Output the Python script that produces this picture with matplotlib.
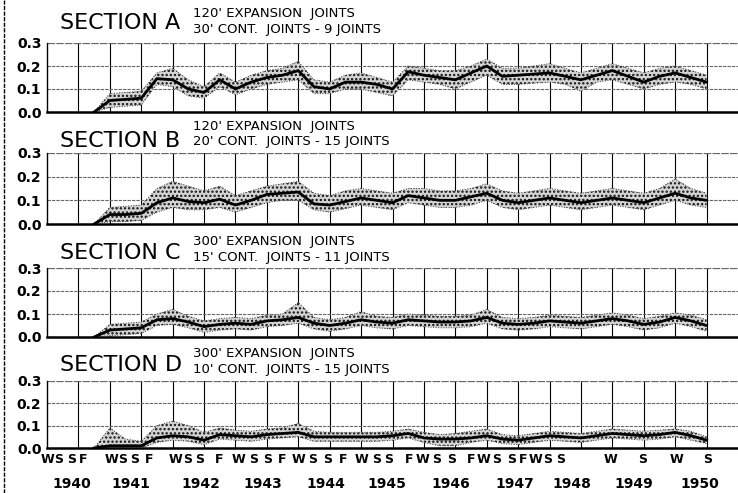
import numpy as np
import matplotlib
matplotlib.use("Agg")
import matplotlib.pyplot as plt
from matplotlib.lines import Line2D

plt.rcParams.update({
    'font.family': 'DejaVu Sans',
    'hatch.linewidth': 1.1,
    'hatch.color': '#111111',
})

# time of each reading (years, one per season)
t = np.arange(1940.75, 1950.51, 0.25)

a_mid = [0.0, 0.05, 0.055, 0.06, 0.145, 0.14, 0.10, 0.085, 0.14, 0.10,
         0.13, 0.15, 0.16, 0.18, 0.11, 0.10, 0.13, 0.13, 0.12, 0.10,
         0.175, 0.16, 0.15, 0.14, 0.17, 0.20, 0.155, 0.16, 0.165, 0.17,
         0.155, 0.14, 0.16, 0.18, 0.155, 0.13, 0.155, 0.17, 0.15, 0.13]
a_hi = [0.0, 0.08, 0.085, 0.09, 0.17, 0.19, 0.14, 0.11, 0.17, 0.13,
        0.16, 0.18, 0.19, 0.22, 0.14, 0.13, 0.16, 0.17, 0.15, 0.13,
        0.20, 0.19, 0.18, 0.18, 0.20, 0.23, 0.19, 0.19, 0.20, 0.21,
        0.19, 0.17, 0.19, 0.21, 0.19, 0.17, 0.19, 0.20, 0.18, 0.16]
a_lo = [0.0, 0.02, 0.025, 0.03, 0.12, 0.11, 0.07, 0.06, 0.11, 0.075,
        0.10, 0.12, 0.13, 0.14, 0.08, 0.08, 0.10, 0.10, 0.085, 0.07,
        0.14, 0.13, 0.12, 0.10, 0.13, 0.16, 0.12, 0.12, 0.125, 0.13,
        0.12, 0.09, 0.13, 0.14, 0.12, 0.10, 0.12, 0.13, 0.12, 0.10]

b_mid = [0.0, 0.04, 0.04, 0.045, 0.09, 0.11, 0.095, 0.09, 0.105, 0.08,
         0.10, 0.125, 0.13, 0.135, 0.085, 0.08, 0.095, 0.11, 0.10, 0.09,
         0.12, 0.11, 0.10, 0.10, 0.115, 0.13, 0.10, 0.09, 0.10, 0.11,
         0.10, 0.09, 0.10, 0.11, 0.10, 0.09, 0.11, 0.13, 0.11, 0.10]
b_hi = [0.0, 0.07, 0.075, 0.08, 0.15, 0.18, 0.16, 0.14, 0.16, 0.12,
        0.14, 0.16, 0.17, 0.18, 0.13, 0.12, 0.14, 0.15, 0.14, 0.13,
        0.15, 0.15, 0.14, 0.14, 0.15, 0.17, 0.14, 0.13, 0.14, 0.15,
        0.14, 0.13, 0.14, 0.15, 0.14, 0.13, 0.15, 0.19, 0.15, 0.13]
b_lo = [0.0, 0.01, 0.01, 0.015, 0.05, 0.07, 0.06, 0.06, 0.07, 0.05,
        0.07, 0.09, 0.10, 0.10, 0.06, 0.05, 0.065, 0.08, 0.07, 0.06,
        0.09, 0.08, 0.07, 0.07, 0.08, 0.10, 0.07, 0.06, 0.07, 0.08,
        0.07, 0.06, 0.07, 0.08, 0.07, 0.06, 0.08, 0.10, 0.08, 0.07]

c_mid = [0.0, 0.03, 0.035, 0.04, 0.075, 0.08, 0.065, 0.045, 0.055, 0.06,
         0.055, 0.07, 0.075, 0.085, 0.06, 0.05, 0.06, 0.075, 0.065, 0.06,
         0.075, 0.07, 0.065, 0.065, 0.07, 0.085, 0.06, 0.055, 0.06, 0.07,
         0.065, 0.06, 0.07, 0.08, 0.07, 0.055, 0.065, 0.085, 0.07, 0.05]
c_hi = [0.0, 0.055, 0.06, 0.065, 0.10, 0.12, 0.09, 0.07, 0.08, 0.085,
        0.08, 0.095, 0.10, 0.15, 0.085, 0.075, 0.085, 0.11, 0.09, 0.085,
        0.10, 0.095, 0.09, 0.09, 0.095, 0.12, 0.085, 0.08, 0.085, 0.095,
        0.09, 0.085, 0.095, 0.105, 0.095, 0.08, 0.09, 0.105, 0.095, 0.075]
c_lo = [0.0, 0.005, 0.01, 0.015, 0.05, 0.055, 0.04, 0.02, 0.03, 0.035,
        0.03, 0.045, 0.05, 0.06, 0.035, 0.025, 0.035, 0.05, 0.04, 0.035,
        0.05, 0.045, 0.04, 0.04, 0.045, 0.06, 0.035, 0.03, 0.035, 0.045,
        0.04, 0.035, 0.045, 0.055, 0.045, 0.03, 0.04, 0.06, 0.045, 0.025]

d_mid = [0.0, 0.01, 0.01, 0.01, 0.045, 0.055, 0.05, 0.035, 0.06, 0.055,
         0.05, 0.06, 0.065, 0.07, 0.05, 0.05, 0.05, 0.05, 0.05, 0.055,
         0.065, 0.045, 0.04, 0.04, 0.045, 0.055, 0.04, 0.035, 0.045, 0.055,
         0.05, 0.045, 0.055, 0.065, 0.06, 0.055, 0.06, 0.07, 0.055, 0.035]
d_hi = [0.0, 0.09, 0.04, 0.03, 0.10, 0.12, 0.10, 0.07, 0.09, 0.08,
        0.075, 0.085, 0.09, 0.11, 0.075, 0.07, 0.07, 0.07, 0.07, 0.075,
        0.085, 0.07, 0.06, 0.065, 0.075, 0.085, 0.06, 0.055, 0.065, 0.075,
        0.07, 0.065, 0.075, 0.085, 0.08, 0.075, 0.08, 0.085, 0.075, 0.05]
d_lo = [0.0, 0.0, 0.0, 0.0, 0.025, 0.035, 0.03, 0.015, 0.04, 0.035,
        0.03, 0.04, 0.045, 0.05, 0.03, 0.03, 0.03, 0.03, 0.03, 0.035,
        0.045, 0.025, 0.01, 0.01, 0.025, 0.035, 0.02, 0.015, 0.025, 0.035,
        0.03, 0.025, 0.035, 0.045, 0.04, 0.035, 0.04, 0.05, 0.035, 0.02]

sections = ['SECTION A', 'SECTION B', 'SECTION C', 'SECTION D']
sub1 = ["120' EXPANSION  JOINTS", "120' EXPANSION  JOINTS",
        "300' EXPANSION  JOINTS", "300' EXPANSION  JOINTS"]
sub2 = ["30' CONT.  JOINTS - 9 JOINTS", "20' CONT.  JOINTS - 15 JOINTS",
        "15' CONT.  JOINTS - 11 JOINTS", "10' CONT.  JOINTS - 15 JOINTS"]
mids = [a_mid, b_mid, c_mid, d_mid]
his = [a_hi, b_hi, c_hi, d_hi]
los = [a_lo, b_lo, c_lo, d_lo]

yticks = [0.0, 0.1, 0.2, 0.3]
ytick_labels = ['0.0', '0.1', '0.2', '0.3']

season_pos = [1940.01, 1940.19, 1940.39, 1940.58,
              1941.02, 1941.21, 1941.40, 1941.62,
              1942.04, 1942.24, 1942.43, 1942.74,
              1943.05, 1943.29, 1943.52, 1943.75,
              1944.01, 1944.23, 1944.47, 1944.71,
              1945.00, 1945.25, 1945.44, 1945.76,
              1945.98, 1946.20, 1946.44, 1946.75,
              1946.95, 1947.16, 1947.39, 1947.58, 1947.78, 1947.97, 1948.17,
              1948.97, 1949.48, 1950.02, 1950.52]
season_lab = ['W', 'S', 'S', 'F', 'W', 'S', 'S', 'F', 'W', 'S', 'S', 'F',
              'W', 'S', 'S', 'F', 'W', 'S', 'S', 'F', 'W', 'S', 'S', 'F',
              'W', 'S', 'S', 'F', 'W', 'S', 'S', 'F', 'W', 'S', 'S',
              'W', 'S', 'W', 'S']
year_pos = [1940.40, 1941.34, 1942.45, 1943.44, 1944.44, 1945.41,
            1946.43, 1947.45, 1948.35, 1949.34, 1950.39]
year_lab = ['1940', '1941', '1942', '1943', '1944', '1945',
            '1946', '1947', '1948', '1949', '1950']

W, H = 738, 493
fig = plt.figure(figsize=(W / 100, H / 100), dpi=100)

# panel boxes in pixels: (top, bottom)
boxes = [(43, 112), (153, 224), (268, 337), (381, 448)]
title_y = [23, 141, 253, 365]
s1_y = [13, 126, 242, 354]
s2_y = [29, 141, 257, 370]
left = 47

axes = []
for i, (top, bot) in enumerate(boxes):
    ax = fig.add_axes([left / W, 1 - bot / H, (W - left) / W, (bot - top) / H])
    ax.set_xlim(1940, 1951)
    ax.set_ylim(0, 0.3)
    for x in range(1941, 1951):
        for dx in (0.0, 0.5):
            if x + dx <= 1950.5:
                ax.axvline(x + dx, color='black', lw=0.8, zorder=1)
    ax.axvline(1940.5, color='black', lw=0.8, zorder=1)
    for y in (0.1, 0.2):
        ax.axhline(y, color='#666666', lw=0.8, ls=(0, (3, 1)), zorder=1)
    ax.axhline(0.3, color='#666666', lw=0.9, ls=(0, (6, 1)), zorder=1)

    ax.fill_between(t, los[i], his[i], facecolor='#d4d4d4', edgecolor='#111111',
                    hatch='....', lw=0, zorder=2)
    ax.plot(t, his[i], color='#333333', lw=0.7, ls=':', zorder=3)
    ax.plot(t, los[i], color='#333333', lw=0.7, ls=':', zorder=3)
    ax.plot(t, mids[i], color='black', lw=2.0, zorder=4)

    for s in ('top', 'right'):
        ax.spines[s].set_visible(False)
    ax.spines['left'].set_linewidth(1.0)
    ax.spines['bottom'].set_linewidth(1.8)
    ax.set_yticks(yticks)
    ax.set_yticklabels(ytick_labels, fontsize=10, fontweight='bold')
    ax.tick_params(axis='y', length=0, pad=4)
    ax.set_xticks([])

    fig.text(60 / W, 1 - title_y[i] / H, sections[i], fontsize=16,
             ha='left', va='center')
    fig.text(193 / W, 1 - s1_y[i] / H, sub1[i], fontsize=9.5,
             ha='left', va='center')
    fig.text(193 / W, 1 - s2_y[i] / H, sub2[i], fontsize=9.5,
             ha='left', va='center')
    axes.append(ax)

ax = axes[-1]
tr = ax.get_xaxis_transform()
for x, lab in zip(season_pos, season_lab):
    ax.text(x, -0.17, lab, transform=tr, ha='center', va='center',
            fontsize=9, fontweight='bold')
for x, lab in zip(year_pos, year_lab):
    ax.text(x, -0.53, lab, transform=tr, ha='center', va='center',
            fontsize=10, fontweight='bold')

# scan border on the left edge
fig.add_artist(Line2D([4 / W, 4 / W], [0, 1], transform=fig.transFigure,
                      color='black', lw=1.0, ls=(0, (3, 1))))

fig.savefig('out.png', dpi=100)
